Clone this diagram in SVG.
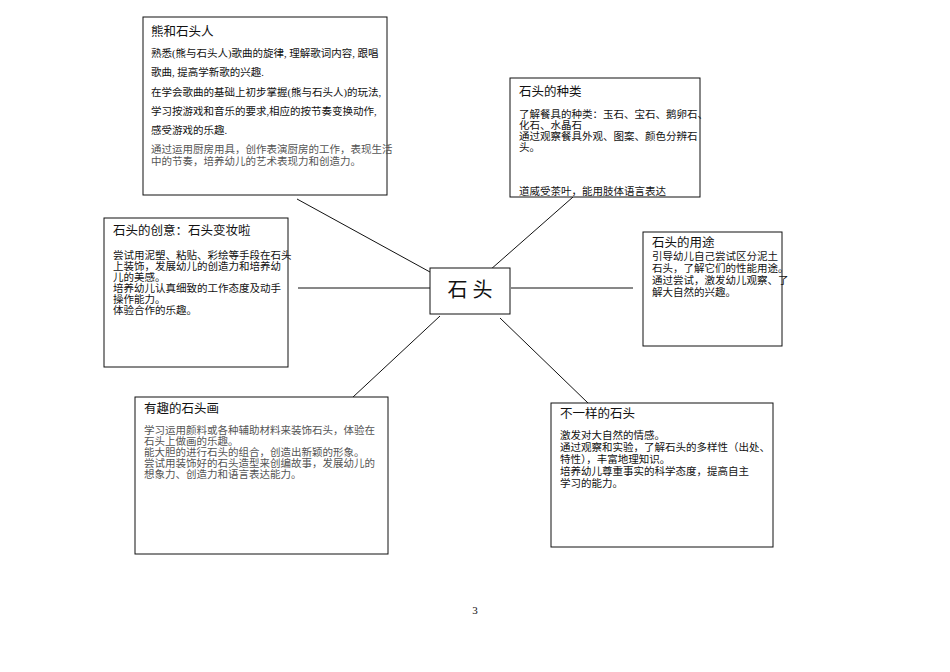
<svg xmlns="http://www.w3.org/2000/svg" width="950" height="672" viewBox="0 0 950 672">
<style>
text{font-family:"Liberation Serif","Noto Sans CJK SC",serif;fill:#111}
.t{font-size:12.5px}
.b{font-size:10.5px}
.g{fill:#555}
rect.box{fill:#fff;stroke:#111;stroke-width:1}
line{stroke:#111;stroke-width:1}
</style>
<defs><clipPath id="c2"><rect x="510" y="78" width="190" height="118"/></clipPath></defs>
<rect width="950" height="672" fill="#fff"/>
<g id="connectors">
<line x1="297" y1="199" x2="430" y2="272"/>
<line x1="573" y1="197" x2="490" y2="270"/>
<line x1="298" y1="288" x2="430" y2="288"/>
<line x1="511" y1="288" x2="633" y2="288"/>
<line x1="440" y1="316" x2="338" y2="411"/>
<line x1="500" y1="318" x2="588" y2="403"/>
</g>
<g id="center"><rect class="box" x="430" y="268" width="80" height="46"/><text x="470" y="297" text-anchor="middle" style="font-size:20px">石 头</text></g>
<g id="n1"><rect class="box" x="143" y="17" width="244" height="178"/>
<text class="t" x="151" y="36">熊和石头人</text>
<text class="b" x="151" y="57">熟悉(熊与石头人)歌曲的旋律, 理解歌词内容, 跟唱</text>
<text class="b" x="151" y="76">歌曲, 提高学新歌的兴趣.</text>
<text class="b" x="151" y="96">在学会歌曲的基础上初步掌握(熊与石头人)的玩法,</text>
<text class="b" x="151" y="115">学习按游戏和音乐的要求,相应的按节奏变换动作,</text>
<text class="b" x="151" y="134">感受游戏的乐趣.</text>
<text class="b g" x="151" y="153">通过运用厨房用具，创作表演厨房的工作，表现生活</text>
<text class="b g" x="151" y="165">中的节奏，培养幼儿的艺术表现力和创造力。</text></g>
<g id="n2"><rect class="box" x="510" y="78" width="190" height="119"/>
<text class="t" x="519" y="96">石头的种类</text>
<text class="b" x="519" y="118">了解餐具的种类：玉石、宝石、鹅卵石、</text>
<text class="b" x="519" y="129">化石、水晶石</text>
<text class="b" x="519" y="140">通过观察餐具外观、图案、颜色分辨石</text>
<text class="b" x="519" y="151">头。</text>
<text class="b" x="519" y="195" clip-path="url(#c2)">道威受茶叶，能用肢体语言表达</text></g>
<g id="n3"><rect class="box" x="104" y="218" width="184" height="149"/>
<text class="t" x="113" y="235">石头的创意：石头变妆啦</text>
<text class="b" x="113" y="259">尝试用泥塑、粘贴、彩绘等手段在石头</text>
<text class="b" x="113" y="270">上装饰，发展幼儿的创造力和培养幼</text>
<text class="b" x="113" y="281">儿的美感。</text>
<text class="b" x="113" y="292">培养幼儿认真细致的工作态度及动手</text>
<text class="b" x="113" y="303">操作能力。</text>
<text class="b" x="113" y="314">体验合作的乐趣。</text></g>
<g id="n4"><rect class="box" x="643" y="232" width="139" height="114"/>
<text class="t" x="652" y="247">石头的用途</text>
<text class="b" x="652" y="260">引导幼儿自己尝试区分泥土</text>
<text class="b" x="652" y="272">石头，了解它们的性能用途。</text>
<text class="b" x="652" y="284">通过尝试，激发幼儿观察、了</text>
<text class="b" x="652" y="296">解大自然的兴趣。</text></g>
<g id="n5"><rect class="box" x="135" y="397" width="253" height="157"/>
<text class="t" x="144" y="413">有趣的石头画</text>
<text class="b g" x="144" y="434">学习运用颜料或各种辅助材料来装饰石头，体验在</text>
<text class="b g" x="144" y="445">石头上做画的乐趣。</text>
<text class="b g" x="144" y="456">能大胆的进行石头的组合，创造出新颖的形象。</text>
<text class="b g" x="144" y="467">尝试用装饰好的石头造型来创编故事，发展幼儿的</text>
<text class="b g" x="144" y="478">想象力、创造力和语言表达能力。</text></g>
<g id="n6"><rect class="box" x="551" y="403" width="222" height="144"/>
<text class="t" x="560" y="418">不一样的石头</text>
<text class="b" x="560" y="439">激发对大自然的情感。</text>
<text class="b" x="560" y="451">通过观察和实验，了解石头的多样性（出处、</text>
<text class="b" x="560" y="463">特性），丰富地理知识。</text>
<text class="b" x="560" y="475">培养幼儿尊重事实的科学态度，提高自主</text>
<text class="b" x="560" y="487">学习的能力。</text></g>
<text x="475" y="614" text-anchor="middle" style="font-size:11px">3</text>
</svg>
